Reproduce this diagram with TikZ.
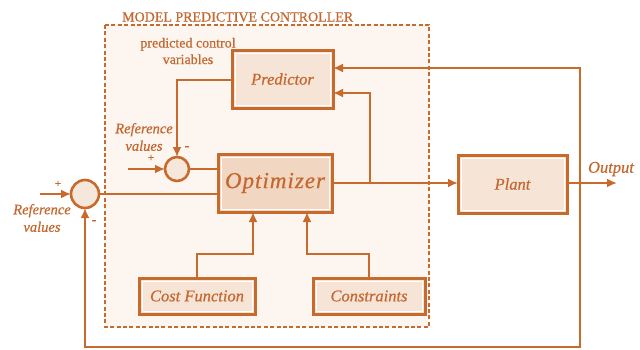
\documentclass[tikz,border=0pt]{standalone}
\usepackage{fontspec}
\setmainfont{Liberation Serif}[FakeBold=0.6]
\usetikzlibrary{arrows.meta}

\definecolor{mpcline}{RGB}{200,106,44}
\definecolor{mpctext}{RGB}{196,104,48}
\definecolor{mpcregion}{RGB}{253,246,240}
\definecolor{boxfill}{RGB}{246,229,215}
\definecolor{optfill}{RGB}{241,214,194}
\definecolor{sumfill}{RGB}{246,231,219}

\tikzset{
  wire/.style={draw=mpcline, line width=2.9pt},
  feed/.style={wire, -{Latex[length=10pt,width=9pt]}},
  blockbox/.style={draw=mpcline, line width=3pt, fill=boxfill,
    text=mpctext, font=\itshape\fontsize{16.5}{18}\selectfont,
    inner sep=0pt, outer sep=0pt},
  sumnode/.style={circle, draw=mpcline, line width=2.6pt, fill=sumfill,
    inner sep=0pt, outer sep=0pt},
  lbl/.style={text=mpctext, inner sep=0pt, align=center},
}

\newcommand{\innerline}[1]{%
  \draw[white, line width=1pt]
    ([shift={(3pt,-3pt)}]#1.north west) rectangle ([shift={(-3pt,3pt)}]#1.south east);}

\begin{document}
\begin{tikzpicture}[x=1pt, y=-1pt]
  \useasboundingbox (0,0) rectangle (640,349);

  % controller region
  \fill[mpcregion] (105,25) rectangle (429,327);
  \draw[mpcline, line width=2.9pt, dash pattern=on 4pt off 2.4pt] (105,25) rectangle (429,327);
  \node[lbl, font=\fontsize{14}{16}\selectfont, anchor=west] (title) at (122,17) {MODEL PREDICTIVE CONTROLLER};

  % blocks
  \node[blockbox, minimum width=101pt, minimum height=58pt] (pred) at (282.5,79) {Predictor};
  \node[blockbox, fill=optfill, minimum width=114pt, minimum height=58pt,
        font=\itshape\fontsize{23}{25}\selectfont] (opt) at (275,183) {O\kern1pt p\kern1pt t\kern1pt i\kern1pt m\kern1pt i\kern1pt z\kern1pt e\kern1pt r};
  \node[blockbox, minimum width=109pt, minimum height=58pt] (plant) at (512.5,184) {Plant};
  \node[blockbox, minimum width=116pt, minimum height=36pt] (cost) at (197,296) {Cost Function};
  \node[blockbox, minimum width=112pt, minimum height=36pt] (cons) at (369,296) {Constraints};
  \innerline{pred}
  \innerline{opt}
  \innerline{plant}
  \innerline{cost}
  \innerline{cons}

  % summing junctions
  \node[sumnode, minimum size=24pt] (sumin) at (177,169) {};
  \node[sumnode, minimum size=28pt] (sumout) at (85,194) {};

  % helper points
  \coordinate (refin) at (128,169);
  \coordinate (refout) at (40,194);
  \coordinate (tap) at (370,183);
  \coordinate (outend) at (617,183);
  \coordinate (fbx) at (580,183);

  % signal paths
  \draw[wire] (sumin.east) -- (sumin.east -| opt.west);
  \draw[wire] (sumout.east) -- (sumout.east -| opt.west);
  \draw[feed] (refin) -- (sumin.west);
  \draw[feed] (refout) -- (sumout.west);
  \draw[feed] (pred.west |- 0,80) -| (sumin.north);
  \draw[feed] (opt.east |- tap) -- (plant.west |- tap);
  \draw[feed] (tap) |- (pred.east |- 0,93);
  \draw[feed] (plant.east |- outend) -- (outend);
  \draw[feed] (fbx) |- (pred.east |- 0,68);
  \draw[feed] (fbx) -- (580,347) -| (sumout.south);
  \draw[feed] (cost.north -| 197,0) |- (253,254) -- (opt.south -| 253,0);
  \draw[feed] (cons.north -| 369,0) |- (307,254) -- (opt.south -| 307,0);

  % labels
  \node[lbl, font=\fontsize{14}{16.5}\selectfont] (pcv) at (188,51) {predicted control\\variables};
  \node[lbl, font=\itshape\fontsize{14.5}{17.5}\selectfont] (refa) at (144,137) {Reference\\values};
  \node[lbl, font=\itshape\fontsize{14.5}{17.5}\selectfont] (refb) at (42,218) {Reference\\values};
  \node[lbl, font=\itshape\fontsize{16.5}{18}\selectfont] (outl) at (611,169) {Output};
  \node[lbl, font=\bfseries\fontsize{11}{11}\selectfont] (pa) at (151,158) {+};
  \node[lbl, font=\bfseries\fontsize{14}{14}\selectfont] (ma) at (187,148) {-};
  \node[lbl, font=\bfseries\fontsize{11}{11}\selectfont] (pb) at (58,184) {+};
  \node[lbl, font=\bfseries\fontsize{14}{14}\selectfont] (mb) at (94,222) {-};
\end{tikzpicture}
\end{document}
